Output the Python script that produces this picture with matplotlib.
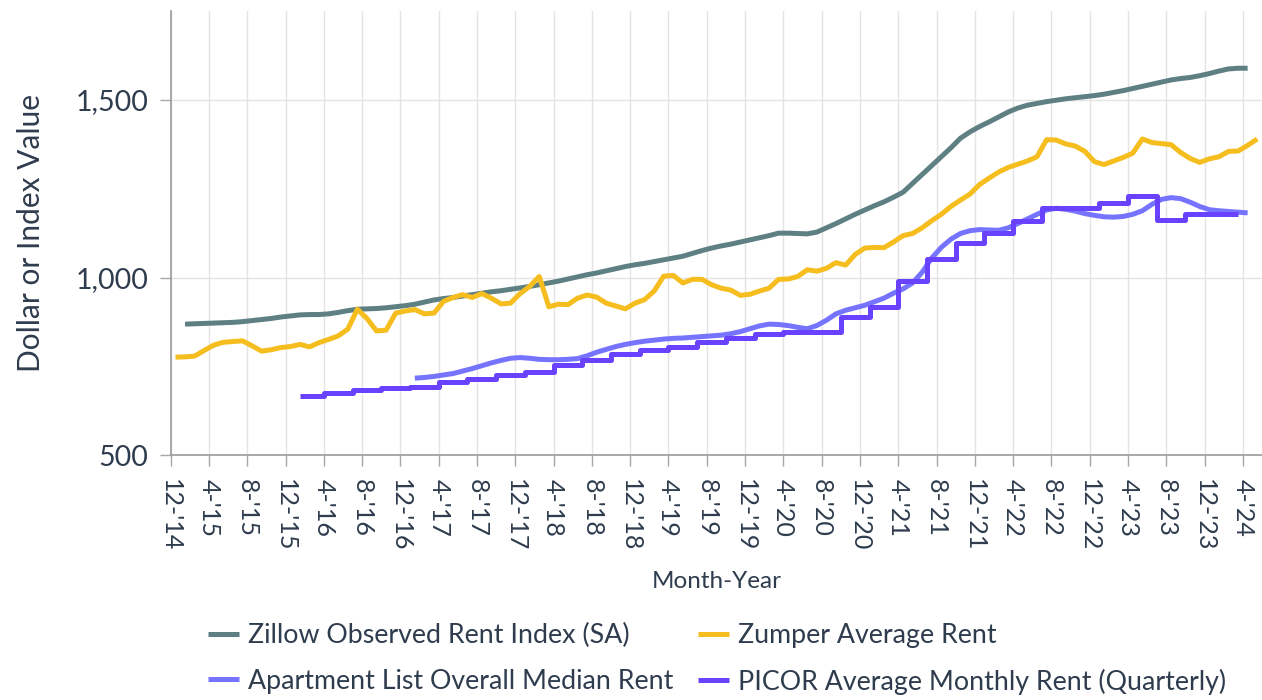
import numpy as np
import matplotlib
matplotlib.use("Agg")
import matplotlib.pyplot as plt

plt.rcParams['font.family'] = ['Lato', 'DejaVu Sans']

# *********************
# DATA (month index 0 = Dec 2014, points sit mid-month)
# *********************
tick_labels = ["12-'14", "4-'15", "8-'15", "12-'15", "4-'16", "8-'16", "12-'16",
               "4-'17", "8-'17", "12-'17", "4-'18", "8-'18", "12-'18", "4-'19",
               "8-'19", "12-'19", "4-'20", "8-'20", "12-'20", "4-'21", "8-'21",
               "12-'21", "4-'22", "8-'22", "12-'22", "4-'23", "8-'23", "12-'23",
               "4-'24"]

# Zillow Observed Rent Index (SA), Jan 2015 - Apr 2024
zillow_start = 1
zillow = [869, 870, 871, 872, 873, 874, 876, 879, 882, 885,
          889, 892, 895, 896, 896, 898, 902, 907, 911, 912,
          913, 915, 918, 921, 925, 931, 937, 941, 944, 948,
          952, 956, 960, 963, 967, 971, 975, 980, 985, 990,
          996, 1002, 1008, 1013, 1019, 1025, 1031, 1036, 1040, 1045,
          1050, 1055, 1060, 1068, 1076, 1083, 1089, 1094, 1100, 1106,
          1112, 1118, 1125, 1125, 1124, 1123, 1128, 1140, 1152, 1165,
          1178, 1190, 1202, 1213, 1226, 1240, 1265, 1290, 1315, 1340,
          1365, 1392, 1410, 1425, 1438, 1452, 1466, 1477, 1485, 1490,
          1495, 1499, 1503, 1506, 1509, 1512, 1516, 1521, 1526, 1532,
          1538, 1544, 1550, 1556, 1560, 1563, 1568, 1574, 1581, 1587,
          1589, 1589]

# Zumper Average Rent, Dec 2014 - May 2024
zumper_start = 0
zumper = [776, 777, 779, 795, 810, 818, 820, 822, 808, 793,
          797, 803, 806, 812, 805, 817, 826, 836, 855, 911,
          885, 850, 852, 900, 906, 910, 898, 900, 933, 944,
          952, 944, 955, 942, 926, 928, 955, 975, 1003, 918,
          925, 924, 942, 951, 945, 928, 920, 912, 928, 938,
          962, 1004, 1006, 985, 995, 995, 980, 970, 965, 950,
          953, 962, 970, 995, 996, 1003, 1022, 1018, 1026, 1042,
          1035, 1065, 1083, 1085, 1084, 1100, 1118, 1124, 1140, 1160,
          1178, 1200, 1218, 1235, 1262, 1280, 1297, 1310, 1319, 1328,
          1340, 1388, 1387, 1376, 1370, 1355, 1326, 1318, 1328, 1338,
          1350, 1390, 1380, 1377, 1374, 1352, 1335, 1324, 1334, 1340,
          1355, 1356, 1372, 1390]

# Apartment List Overall Median Rent, Jan 2017 - Apr 2024
aptlist_start = 25
aptlist = [717, 719, 722, 726, 730, 737, 744, 752, 760, 767,
           773, 775, 773, 770, 769, 769, 770, 772, 780, 790,
           798, 806, 812, 817, 821, 824, 827, 829, 830, 832,
           834, 836, 838, 842, 848, 856, 864, 869, 868, 865,
           860, 856, 865, 880, 898, 908, 915, 922, 932, 942,
           956, 968, 985, 1015, 1055, 1085, 1108, 1124, 1132, 1135,
           1134, 1133, 1140, 1152, 1165, 1178, 1190, 1195, 1192, 1187,
           1180, 1175, 1171, 1170, 1172, 1178, 1188, 1206, 1220, 1225,
           1222, 1212, 1200, 1191, 1188, 1186, 1184, 1182]

# PICOR Average Monthly Rent, quarterly Q1 2016 - Q1 2024
picor_start = 13
picor_q = [667, 674, 683, 688, 692, 706, 714, 727, 734, 753,
           767, 784, 795, 804, 818, 830, 841, 846, 846, 888,
           916, 991, 1051, 1098, 1126, 1159, 1196, 1196, 1210, 1229,
           1163, 1180, 1180]

names = ["Zillow Observed Rent Index (SA)", "Zumper Average Rent",
         "Apartment List Overall Median Rent", "PICOR Average Monthly Rent (Quarterly)"]
colors = ["#5f8083", "#f5bd1e", "#7674ff", "#6842ff"]

TEXT = "#2e3c4e"
LW = 3.6


def months(start, n):
    return np.arange(start, start + n) + 0.5


# *********************
# PLOT
# *********************
fig = plt.figure(figsize=(12.62, 7), dpi=100)
ax = fig.add_axes([170.7 / 1262, 1 - 455.3 / 700, 1 - 170.7 / 1262, (455.3 - 11) / 700])

picor = np.repeat(picor_q, 3)

l_zil, = ax.plot(months(zillow_start, len(zillow)), zillow, color=colors[0], lw=LW,
                 solid_capstyle='butt', solid_joinstyle='round')
l_zum, = ax.plot(months(zumper_start, len(zumper)), zumper, color=colors[1], lw=LW,
                 solid_capstyle='butt', solid_joinstyle='round')
l_apt, = ax.plot(months(aptlist_start, len(aptlist)), aptlist, color=colors[2], lw=LW,
                 solid_capstyle='butt', solid_joinstyle='round')
l_pic, = ax.plot(months(picor_start, len(picor)), picor, color=colors[3], lw=LW,
                 drawstyle='steps-mid', solid_capstyle='butt', solid_joinstyle='round')

ax.set_xlim(0, 114)
ax.set_ylim(500, 1750)
ax.set_xticks(np.arange(0, 4 * len(tick_labels), 4))
ax.set_xticklabels(tick_labels, rotation=270, fontsize=18, color=TEXT, va='top', ha='center')
ax.set_yticks([500, 1000, 1500])
ax.set_yticklabels(["500", "1,000", "1,500"], fontsize=20.5, color=TEXT)
ax.tick_params(axis='both', length=8, width=1, color='#a8a8a8')
ax.tick_params(axis='x', pad=9)
ax.tick_params(axis='y', pad=8)

ax.grid(True, color='#e4e4e4', lw=1)
ax.set_axisbelow(True)
for s in ['top', 'right']:
    ax.spines[s].set_visible(False)
for s in ['left', 'bottom']:
    ax.spines[s].set_color('#9a9a9a')
    ax.spines[s].set_linewidth(1.2)

ax.set_ylabel("Dollar or Index Value", fontsize=21.5, color=TEXT, labelpad=22)
fig.text(717 / 1262, 1 - 582 / 700, "Month-Year", fontsize=17.5, color=TEXT,
         ha='center', va='center')

fig.legend([l_zil, l_apt, l_zum, l_pic], [names[0], names[2], names[1], names[3]],
           ncol=2, loc='center left', bbox_to_anchor=(208 / 1262, 1 - 659 / 700),
           frameon=False, fontsize=19.3, labelcolor=TEXT, handlelength=1.15,
           handletextpad=0.35, columnspacing=0.9, labelspacing=0.75, borderpad=0,
           borderaxespad=0)

fig.savefig("out.png", dpi=100)
